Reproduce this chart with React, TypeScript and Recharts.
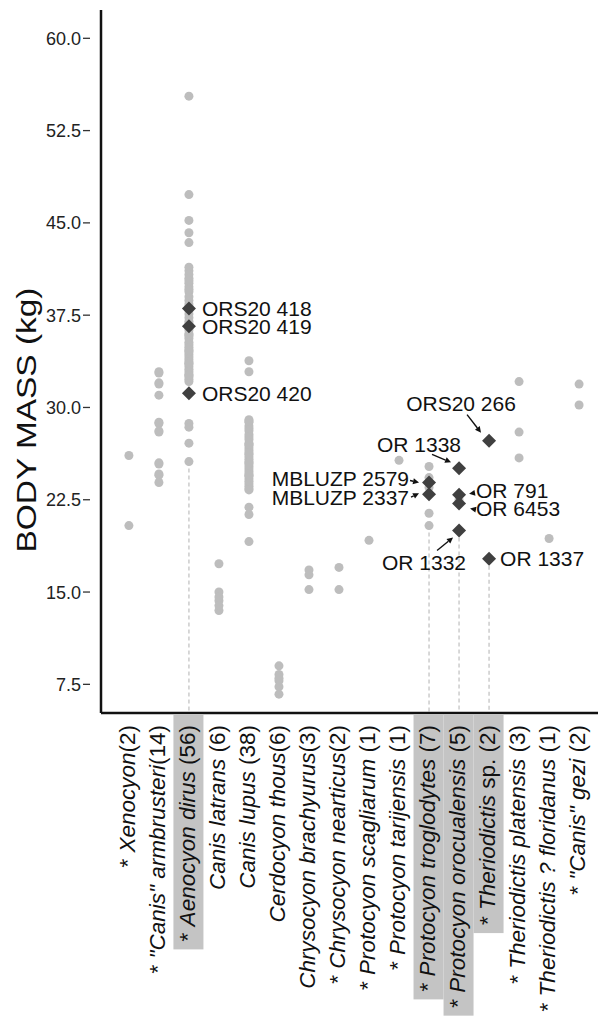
import { useLayoutEffect, useRef, useState } from 'react';
import { ScatterChart, Scatter, XAxis, YAxis, ReferenceLine } from 'recharts';

const FONT = '"Liberation Sans", Arial, Helvetica, sans-serif';

// x tick labels, one per taxon (count of specimens in brackets)
const TICK_LABELS = [
  'Xenocyon(2)',
  '"Canis" armbrusteri(14)',
  'Aenocyon dirus (56)',
  'Canis latrans (6)',
  'Canis lupus (38)',
  'Cerdocyon thous(6)',
  'Chrysocyon brachyurus(3)',
  'Chrysocyon nearticus(2)',
  'Protocyon scagliarum (1)',
  'Protocyon tarijensis (1)',
  'Protocyon troglodytes (7)',
  'Protocyon orocualensis (5)',
  'Theriodictis sp. (2)',
  'Theriodictis platensis (3)',
  'Theriodictis ? floridanus (1)',
  '"Canis" gezi (2)',
];
const EXTINCT = [true, true, true, false, false, false, false, true, true, true, true, true, true, true, true, true];
const HIGHLIGHTED = [false, false, true, false, false, false, false, false, false, false, true, true, true, false, false, false];

// body mass (kg) of the comparative sample
const XENOCYON = [26.1, 20.4];
const CANIS_ARMBRUSTERI = [32.9, 32.0, 31.0, 28.7, 28.0, 25.5, 24.5, 23.9, 32.8, 31.9, 28.8, 28.1, 25.4, 24.6];
const AENOCYON_DIRUS = [
  55.3, 47.3, 45.2, 44.2, 43.4,
  41.4, 41.1, 40.8, 40.5, 40.1, 39.8, 39.4, 39.0, 38.7, 38.4,
  37.9, 37.6, 37.3, 37.0, 36.8, 36.3, 36.0, 35.8, 35.6, 35.3, 35.1, 34.9, 34.7,
  34.5, 34.3, 34.1, 33.9, 33.7, 33.5, 33.3, 33.1, 32.9, 32.7, 32.5, 32.3, 32.1,
  28.7, 28.4, 27.1, 25.6,
  35.9, 34.6, 33.6, 32.6, 36.5, 38.2, 39.6, 40.3,
];
const CANIS_LATRANS = [17.3, 15.0, 14.3, 13.5, 14.6, 13.9];
const CANIS_LUPUS = [
  33.8, 32.9, 29.0, 28.8, 28.5, 28.3, 28.1, 27.8, 27.6, 27.4, 27.1, 26.9, 26.7,
  26.5, 26.3, 26.0, 25.8, 25.6, 25.4, 25.2, 25.0, 24.8, 24.6, 24.4, 24.2, 24.0,
  23.8, 23.6, 23.4, 23.3, 27.0, 26.2, 25.5, 24.5, 21.9, 21.3, 19.1, 28.9,
];
const CERDOCYON_THOUS = [9.0, 8.3, 7.8, 7.3, 6.7, 8.0];
const CHRYSOCYON_BRACHYURUS = [16.8, 16.4, 15.2];
const CHRYSOCYON_NEARTICUS = [17.0, 15.2];
const PROTOCYON_SCAGLIARUM = [19.2];
const PROTOCYON_TARIJENSIS = [25.7];
const PROTOCYON_TROGLODYTES = [25.2, 24.3, 21.4, 20.4, 23.5];
const PROTOCYON_OROCUALENSIS = [22.5];
const THERIODICTIS_SP: number[] = [];
const THERIODICTIS_PLATENSIS = [32.1, 28.0, 25.9];
const THERIODICTIS_FLORIDANUS = [19.35];
const CANIS_GEZI = [31.9, 30.2];

const SPECIES_MASSES = [
  XENOCYON, CANIS_ARMBRUSTERI, AENOCYON_DIRUS, CANIS_LATRANS, CANIS_LUPUS,
  CERDOCYON_THOUS, CHRYSOCYON_BRACHYURUS, CHRYSOCYON_NEARTICUS, PROTOCYON_SCAGLIARUM,
  PROTOCYON_TARIJENSIS, PROTOCYON_TROGLODYTES, PROTOCYON_OROCUALENSIS, THERIODICTIS_SP,
  THERIODICTIS_PLATENSIS, THERIODICTIS_FLORIDANUS, CANIS_GEZI,
];

// estimated specimens (diamonds): taxon position, mass, catalogue number
const SPECIMEN_TAXON = [3, 3, 3, 11, 11, 12, 12, 12, 12, 13, 13];
const SPECIMEN_MASS = [38.05, 36.6, 31.15, 23.9, 22.95, 25.05, 22.9, 22.2, 20.0, 27.3, 17.7];
const SPECIMEN_ID = [
  'ORS20 418', 'ORS20 419', 'ORS20 420', 'MBLUZP 2579', 'MBLUZP 2337',
  'OR 1338', 'OR 791', 'OR 6453', 'OR 1332', 'ORS20 266', 'OR 1337',
];

const Y_TICKS = [7.5, 15, 22.5, 30, 37.5, 45, 52.5, 60];
const Y_MIN = 5.17;
const Y_MAX = 62.3;

// label placement around each diamond (pixels)
const NOTE_LAYOUT: Record<string, { dx: number; dy: number; anchor: string; arrow?: number[] }> = {
  'ORS20 418': { dx: 13, dy: 0, anchor: 'start' },
  'ORS20 419': { dx: 13, dy: 0, anchor: 'start' },
  'ORS20 420': { dx: 13, dy: 0, anchor: 'start' },
  'ORS20 266': { dx: -28, dy: -37, anchor: 'middle', arrow: [-22, -26, -8, -8] },
  'OR 1338': { dx: -40, dy: -24, anchor: 'middle', arrow: [-27, -14, -8, -6] },
  'MBLUZP 2579': { dx: -20, dy: -4, anchor: 'end', arrow: [-19, -2, -10, 0] },
  'MBLUZP 2337': { dx: -20, dy: 3, anchor: 'end', arrow: [-18, 3, -10, -1] },
  'OR 791': { dx: 17, dy: -4, anchor: 'start', arrow: [16, -2, 10, -1] },
  'OR 6453': { dx: 17, dy: 5, anchor: 'start', arrow: [16, 6, 11, 5] },
  'OR 1332': { dx: -35, dy: 32, anchor: 'middle', arrow: [-22, 20, -6, 7] },
  'OR 1337': { dx: 11, dy: 0, anchor: 'start' },
};

const greyData = SPECIES_MASSES.flatMap((arr, i) => arr.map((m) => ({ x: i + 1, y: m })));
const specimenData = SPECIMEN_ID.map((id, i) => ({ x: SPECIMEN_TAXON[i], y: SPECIMEN_MASS[i], id }));

const dashed = HIGHLIGHTED.map((h, i) => (h ? i : -1))
  .filter((i) => i >= 0)
  .map((i) => {
    const vals = [...SPECIES_MASSES[i], ...specimenData.filter((s) => s.x === i + 1).map((s) => s.y)];
    return { x: i + 1, low: Math.min(...vals) };
  });

function SpeciesTick(props: any) {
  const { x, y, payload } = props;
  const i = Math.round(payload.value) - 1;
  const ref = useRef<SVGTextElement>(null);
  const [len, setLen] = useState(0);
  useLayoutEffect(() => {
    if (ref.current) setLen(ref.current.getComputedTextLength());
  }, []);
  const label = TICK_LABELS[i];
  if (!label) return null;
  const m = label.match(/^(.*?)(\s?\(\d+\))$/);
  const name = m ? m[1] : label;
  const count = m ? m[2] : '';
  const sp = name.endsWith(' sp.');
  const italicPart = sp ? name.slice(0, -4) : name;
  const top = 12;
  return (
    <g transform={`translate(${x},${y})`}>
      {HIGHLIGHTED[i] && <rect x={-15.5} y={1} width={30} height={top + len + 7} fill="#c4c4c4" />}
      <text
        ref={ref}
        transform={`translate(6,${top}) rotate(-90)`}
        textAnchor="end"
        fontSize={22.5}
        fontFamily={FONT}
        fill="#111"
        style={{ whiteSpace: 'pre' }}
      >
        {EXTINCT[i] && <tspan>{'* '}</tspan>}
        <tspan fontStyle="italic">{italicPart}</tspan>
        {sp && <tspan>{' sp.'}</tspan>}
        <tspan>{count}</tspan>
      </text>
    </g>
  );
}

function MassTick(props: any) {
  const { x, y, payload } = props;
  return (
    <g>
      <text x={x - 20} y={y} dy="0.36em" textAnchor="end" fontSize={18} fontFamily={FONT} fill="#222">
        {Number(payload.value).toFixed(1)}
      </text>
      <line x1={x - 18} x2={x - 11} y1={y} y2={y} stroke="#333" strokeWidth={1.3} />
    </g>
  );
}

function AxisTitle() {
  return (
    <text
      transform="translate(36,420) rotate(-90)"
      textAnchor="middle"
      fontSize={27}
      fontFamily={FONT}
      fill="#111"
      textLength={265}
      lengthAdjust="spacingAndGlyphs"
    >
      BODY MASS (kg)
    </text>
  );
}

function Arrow({ x1, y1, x2, y2 }: { x1: number; y1: number; x2: number; y2: number }) {
  const a = Math.atan2(y2 - y1, x2 - x1);
  const L = 6;
  const W = 3;
  const bx = x2 - L * Math.cos(a);
  const by = y2 - L * Math.sin(a);
  const px = -Math.sin(a) * W;
  const py = Math.cos(a) * W;
  return (
    <g>
      <line x1={x1} y1={y1} x2={bx} y2={by} stroke="#111" strokeWidth={1.4} />
      <polygon points={`${x2},${y2} ${bx + px},${by + py} ${bx - px},${by - py}`} fill="#111" />
    </g>
  );
}

function SpecimenMark(props: any) {
  const { cx, cy, payload } = props;
  const note = NOTE_LAYOUT[payload.id];
  const r = 7;
  return (
    <g>
      <polygon points={`${cx},${cy - r} ${cx + r},${cy} ${cx},${cy + r} ${cx - r},${cy}`} fill="#404040" />
      {note && note.arrow && (
        <Arrow x1={cx + note.arrow[0]} y1={cy + note.arrow[1]} x2={cx + note.arrow[2]} y2={cy + note.arrow[3]} />
      )}
      {note && (
        <text
          x={cx + note.dx}
          y={cy + note.dy}
          dy="0.36em"
          textAnchor={note.anchor as any}
          fontSize={21}
          fontFamily={FONT}
          fill="#111"
        >
          {payload.id}
        </text>
      )}
    </g>
  );
}

export default function App() {
  return (
    <div style={{ position: 'absolute', left: 0, top: 0, width: 599, height: 1020, background: '#fff' }}>
      <ScatterChart width={599} height={1020} margin={{ top: 10, right: 1, bottom: 0, left: 0 }}>
        <XAxis
          type="number"
          dataKey="x"
          domain={[0.07, 16.63]}
          ticks={TICK_LABELS.map((_, i) => i + 1)}
          interval={0}
          allowDataOverflow
          height={307}
          tickLine={false}
          tickSize={0}
          tickMargin={0}
          axisLine={{ stroke: '#111', strokeWidth: 2.5 }}
          tick={<SpeciesTick />}
        />
        <YAxis
          type="number"
          dataKey="y"
          domain={[Y_MIN, Y_MAX]}
          ticks={Y_TICKS}
          interval={0}
          allowDataOverflow
          width={101}
          tickLine={false}
          tickSize={0}
          tickMargin={0}
          axisLine={{ stroke: '#111', strokeWidth: 2.5 }}
          tick={<MassTick />}
          label={<AxisTitle />}
        />
        {dashed.map((d) => (
          <ReferenceLine
            key={d.x}
            segment={[{ x: d.x, y: d.low }, { x: d.x, y: Y_MIN }]}
            stroke="#c8c8c8"
            strokeWidth={1.4}
            strokeDasharray="4 3"
          />
        ))}
        <Scatter
          data={greyData}
          isAnimationActive={false}
          shape={(p: any) => <circle cx={p.cx} cy={p.cy} r={4.5} fill="#bdbdbd" />}
        />
        <Scatter data={specimenData} isAnimationActive={false} shape={<SpecimenMark />} />
      </ScatterChart>
    </div>
  );
}
